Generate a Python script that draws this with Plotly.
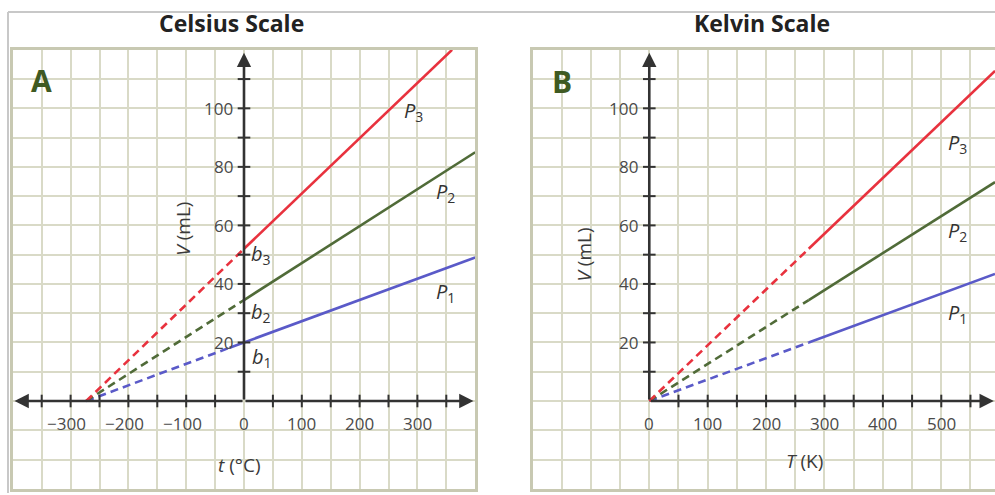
import plotly.graph_objects as go

# ---------------- data ----------------
series_names = ["P1", "P2", "P3"]
series_colors = ["#5a5ac8", "#506b38", "#e8323e"]

# Celsius panel: (t, V) points; first segment dashed (extrapolated)
celsius_t = {
    "P1": [-273, -25, 400],
    "P2": [-273, 0, 400],
    "P3": [-273, 0, 360],
}
celsius_V = {
    "P1": [0, 18.2, 49],
    "P2": [0, 34.5, 85],
    "P3": [0, 52, 120],
}
# Kelvin panel
kelvin_T = {
    "P1": [0, 273, 592],
    "P2": [0, 273, 592],
    "P3": [0, 273, 592],
}
kelvin_V = {
    "P1": [0, 20, 43.4],
    "P2": [0, 34.5, 74.8],
    "P3": [0, 52, 112.8],
}

celsius_tick_labels = [-300, -200, -100, 0, 100, 200, 300]
kelvin_tick_labels = [0, 100, 200, 300, 400, 500]
volume_tick_labels = [20, 40, 60, 80, 100]
celsius_minor = [-350, -300, -250, -200, -150, -100, -50, 50, 100, 150, 200, 250, 300, 350]
kelvin_minor = [50, 100, 150, 200, 250, 300, 350, 400, 450, 500, 550]
volume_minor = [10, 20, 30, 40, 50, 60, 70, 80, 90, 100, 110]

# label positions (data coords)
celsius_P_labels = {"P3": (294, 99), "P2": (349, 71.4), "P1": (349, 37.2)}
kelvin_P_labels = {"P3": (528, 88), "P2": (528, 58), "P1": (528, 30)}
b_labels = {"b3": (30, 49.9), "b2": (30, 30.4), "b1": (31, 15)}

# ---------------- styling ----------------
W, H = 995, 495
FONT = "Open Sans"
AXC = "#333333"
GRID = "#d9dac7"
BORDER = "#c8c9b2"
TXT = "#4a4a4a"

def px_x(p):
    return p / W

def px_y(p):
    return 1 - p / H

fig = go.Figure()

y_dom = [px_y(488.8), px_y(49.8)]

axis_common = dict(showgrid=True, gridcolor=GRID, gridwidth=2, zeroline=False,
                   showticklabels=False, ticks="", showline=True,
                   linecolor=BORDER, linewidth=3, fixedrange=True)

fig.update_layout(
    width=W, height=H, margin=dict(l=0, r=0, t=0, b=0),
    paper_bgcolor="white", plot_bgcolor="white", showlegend=False,
    xaxis=dict(domain=[px_x(12.8), px_x(475.2)], range=[-400, 400], dtick=50, tick0=0,
               anchor="y", mirror=True, **axis_common),
    yaxis=dict(domain=y_dom, range=[-30, 120], dtick=10, tick0=0, anchor="x", mirror=True, **axis_common),
    xaxis2=dict(domain=[px_x(532.5), 1.0], range=[-200, 592], dtick=50, tick0=0,
                anchor="y2", mirror=True, **axis_common),
    yaxis2=dict(domain=y_dom, range=[-30, 120], dtick=10, tick0=0, anchor="x2", mirror=False, **axis_common),
)

# ---- series lines ----
for name, col in zip(series_names, series_colors):
    for xs_d, ys_d, xa, ya in [(celsius_t, celsius_V, "x", "y"), (kelvin_T, kelvin_V, "x2", "y2")]:
        xs, ys = xs_d[name], ys_d[name]
        fig.add_trace(go.Scatter(x=xs[:2], y=ys[:2], mode="lines", xaxis=xa, yaxis=ya,
                                 line=dict(color=col, width=2.6, dash="8px,5px"), hoverinfo="skip"))
        fig.add_trace(go.Scatter(x=xs[1:], y=ys[1:], mode="lines", xaxis=xa, yaxis=ya,
                                 line=dict(color=col, width=2.6), hoverinfo="skip"))

# ---- axis tick marks along the central axes ----
def tick_marks(xs, ys, sym, xa, ya):
    fig.add_trace(go.Scatter(x=xs, y=ys, mode="markers", xaxis=xa, yaxis=ya, cliponaxis=False,
                             marker=dict(symbol=sym, size=9, line=dict(color=AXC, width=2)),
                             hoverinfo="skip"))

tick_marks(celsius_minor, [0] * len(celsius_minor), "line-ns", "x", "y")
tick_marks([0] * len(volume_minor), volume_minor, "line-ew", "x", "y")
tick_marks(kelvin_minor, [0] * len(kelvin_minor), "line-ns", "x2", "y2")
tick_marks([0] * len(volume_minor), volume_minor, "line-ew", "x2", "y2")

annotations = []

def arrow(x0, y0, x1, y1, xa, ya):
    annotations.append(dict(x=x1, y=y1, ax=x0, ay=y0, xref=xa, yref=ya, axref=xa, ayref=ya,
                            text="", showarrow=True, arrowhead=2, arrowsize=1.1,
                            arrowwidth=2.6, arrowcolor=AXC, standoff=0, startstandoff=0))

# Celsius axes
arrow(0, 0, 397, 0, "x", "y")
arrow(0, 0, -397, 0, "x", "y")
arrow(0, 0, 0, 119, "x", "y")
# Kelvin axes
arrow(0, 0, 590, 0, "x2", "y2")
arrow(0, 0, 0, 119, "x2", "y2")

def txt(x, y, text, xa, ya, size=17, **kw):
    d = dict(x=x, y=y, xref=xa, yref=ya, text=text, showarrow=False,
             xanchor="center", yanchor="middle",
             font=dict(family=FONT, size=size, color=kw.pop("color", TXT)))
    d.update(kw)
    annotations.append(d)

# tick labels
for v in celsius_tick_labels:
    lab = ("\u2212" + str(abs(v))) if v < 0 else str(v)
    txt(v, 0, lab, "x", "y", yanchor="top", yshift=-9, xshift=(-4 if v < 0 else 0))
for v in kelvin_tick_labels:
    txt(v, 0, str(v), "x2", "y2", yanchor="top", yshift=-9)
for v in volume_tick_labels:
    txt(0, v, str(v), "x", "y", xanchor="right", xshift=-9)
    txt(0, v, str(v), "x2", "y2", xanchor="right", xshift=-9)

# axis titles
txt(-105, 59, "<i>V</i> (mL)", "x", "y", size=19, textangle=-90, color="#3a3a3a")
txt(-112, 50, "<i>V</i> (mL)", "x2", "y2", size=19, textangle=-90, color="#3a3a3a")
txt(-7, -22, "<i>t</i> (\u00b0C)", "x", "y", size=19, color="#3a3a3a")
txt(265, -20.5, "<i>T</i> (K)", "x2", "y2", size=19, color="#3a3a3a")

# series labels
for name, (x, y) in celsius_P_labels.items():
    txt(x, y, "<i>P</i><sub>" + name[1] + "</sub>", "x", "y", size=20, color="#333333")
for name, (x, y) in kelvin_P_labels.items():
    txt(x, y, "<i>P</i><sub>" + name[1] + "</sub>", "x2", "y2", size=20, color="#333333")
for name, (x, y) in b_labels.items():
    txt(x, y, "<i>b</i><sub>" + name[1] + "</sub>", "x", "y", size=20, color="#333333")

# panel letters and titles
txt(px_x(41), px_y(81), "<b>A</b>", "paper", "paper", size=30, color="#3f5a22")
txt(px_x(562), px_y(82), "<b>B</b>", "paper", "paper", size=30, color="#3f5a22")
txt(px_x(231), px_y(23), "<b>Celsius Scale</b>", "paper", "paper", size=23, color="#222222")
txt(px_x(762), px_y(23), "<b>Kelvin Scale</b>", "paper", "paper", size=23, color="#222222")

fig.update_layout(annotations=annotations)

# outer frame (top and left edges)
fig.add_shape(type="line", xref="paper", yref="paper", x0=px_x(8), x1=1, y0=px_y(12), y1=px_y(12),
              line=dict(color="#c8c8c8", width=2))
fig.add_shape(type="line", xref="paper", yref="paper", x0=px_x(8), x1=px_x(8), y0=px_y(12), y1=px_y(493),
              line=dict(color="#c8c8c8", width=2))

fig.write_html("out.html", config={"displayModeBar": False},
               post_script="document.body.style.margin='0';document.body.style.overflow='hidden';")
